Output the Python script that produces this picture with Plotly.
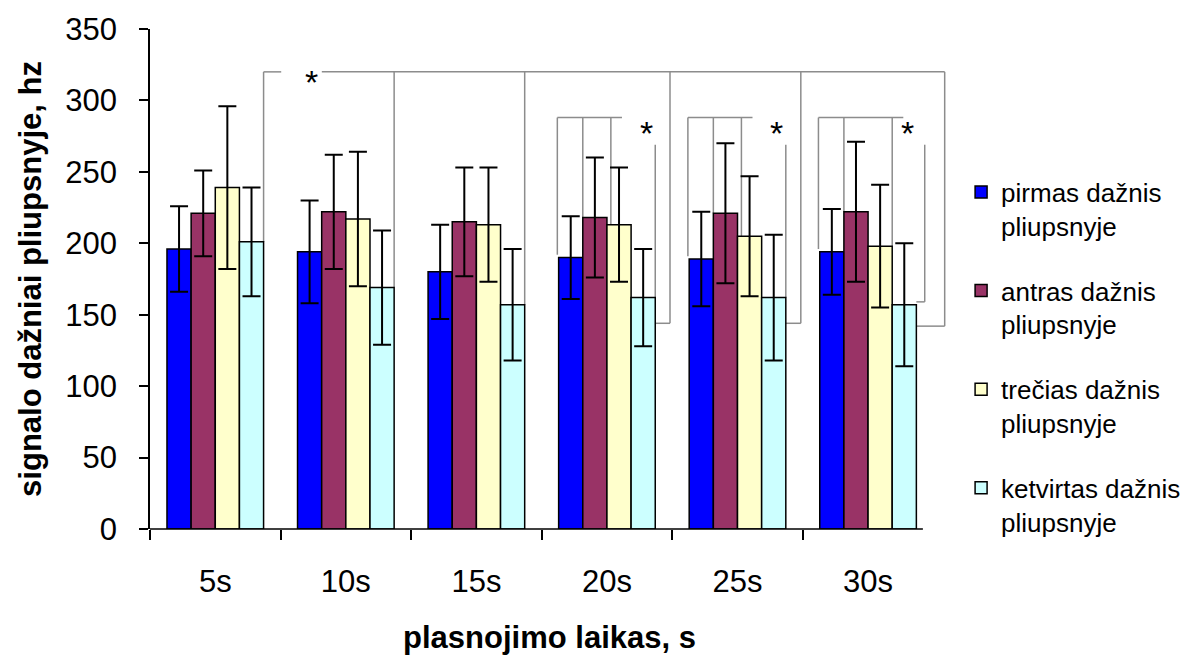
import plotly.graph_objects as go

# Plasnojimo laikas (grupės)
categories = ["5s", "10s", "15s", "20s", "25s", "30s"]

# Vidutiniai signalo dažniai (Hz) ir standartiniai nuokrypiai
pirmas = [196, 194, 180, 190, 189, 194]
pirmas_err = [30, 36, 33, 29, 33, 30]
antras = [221, 222, 215, 218, 221, 222]
antras_err = [30, 40, 38, 42, 49, 49]
trecias = [239, 217, 213, 213, 205, 198]
trecias_err = [57, 47, 40, 40, 42, 43]
ketvirtas = [201, 169, 157, 162, 162, 157]
ketvirtas_err = [38, 40, 39, 34, 44, 43]

series_names = [
    "pirmas dažnis<br>pliupsnyje",
    "antras dažnis<br>pliupsnyje",
    "trečias dažnis<br>pliupsnyje",
    "ketvirtas dažnis<br>pliupsnyje",
]
series_values = [pirmas, antras, trecias, ketvirtas]
series_errors = [pirmas_err, antras_err, trecias_err, ketvirtas_err]
series_colors = ["#0000FF", "#993366", "#FFFFCC", "#CCFFFF"]

FONT = "Arial, 'Liberation Sans', sans-serif"
BARGAP = 0.26
N_SERIES = 4
BAR_W = (1 - BARGAP) / N_SERIES
x_idx = list(range(len(categories)))


def edge(k, i, side="left"):
    """Left/right edge (in axis units) of bar i inside group k."""
    left = k - (1 - BARGAP) / 2 + BAR_W * i
    return left + BAR_W if side == "right" else left


fig = go.Figure()
for name, vals, errs, col in zip(series_names, series_values, series_errors, series_colors):
    fig.add_trace(go.Bar(
        x=x_idx, y=vals, name=name, legendgroup=name,
        marker=dict(color=col, line=dict(color="black", width=1.5)),
        error_y=dict(type="data", array=errs, visible=True,
                     color="black", thickness=2, width=9),
    ))

shapes = []
GREY = dict(color="#8c8c8c", width=1.5)


def seg(x0, y0, x1, y1):
    shapes.append(dict(type="line", xref="x", yref="y", x0=x0, y0=y0, x1=x1, y1=y1,
                       line=GREY, layer="below"))


STAR_FONT = dict(family=FONT, size=34, color="black")

# Long comparison bracket across all groups
TOP = 320
last_x = edge(5, 3, "right") + 0.217
seg(edge(0, 3, "right"), TOP, 0.505, TOP)
seg(0.816, TOP, last_x, TOP)
for k in range(3):
    seg(edge(k, 3, "right"), TOP, edge(k, 3, "right"), ketvirtas[k])
foot = {3: (0.113, 144), 4: (0.115, 144), 5: (0.217, 142)}
for k, (dx, yb) in foot.items():
    xr = edge(k, 3, "right")
    seg(xr + dx, TOP, xr + dx, yb)
    seg(xr, yb, xr + dx, yb)

# Within-group brackets for 20s, 25s, 30s
INNER = 288
RIGHT_TOP = 269
annotations = [dict(x=0.74, y=TOP, xref="x", yref="y", text="*", showarrow=False,
                    font=STAR_FONT, yshift=-10)]
for k in (3, 4, 5):
    x_blue = edge(k, 0) - 0.01
    x_mar = edge(k, 1)
    if k == 5:
        x_third = edge(k, 2, "right")
    else:
        x_third = edge(k, 2) + 0.03
    seg(x_blue, INNER, x_third + 0.085, INNER)
    seg(x_blue, INNER, x_blue, pirmas[k] + 2)
    seg(x_mar, INNER, x_mar, antras[k])
    seg(x_third, INNER, x_third, trecias[k])
    xr = edge(k, 3, "right")
    if k == 5:
        seg(xr + 0.064, RIGHT_TOP, xr + 0.064, ketvirtas[k] + 2)
        seg(xr, ketvirtas[k] + 2, xr + 0.064, ketvirtas[k] + 2)
    else:
        seg(xr, RIGHT_TOP, xr, ketvirtas[k])
    annotations.append(dict(x=xr - 0.07, y=284, xref="x", yref="y", text="*",
                            showarrow=False, yshift=-10, font=STAR_FONT))

# Horizontal axis line
shapes.append(dict(type="line", xref="x", yref="paper",
                   x0=-0.5, x1=edge(5, 3, "right") + 0.05, y0=0, y1=0,
                   line=dict(color="black", width=1.5)))

fig.update_layout(
    width=1188, height=661,
    margin=dict(l=150, r=239, t=28, b=129),
    paper_bgcolor="white", plot_bgcolor="white",
    barmode="group", bargap=BARGAP, bargroupgap=0,
    font=dict(family=FONT, color="black"),
    shapes=shapes, annotations=annotations,
    showlegend=True,
    legend=dict(xref="container", yref="container", x=0.809, y=0.745,
                xanchor="left", yanchor="top", maxheight=600,
                font=dict(family=FONT, size=26, color="black"),
                tracegroupgap=28, valign="top", bgcolor="rgba(0,0,0,0)"),
    xaxis=dict(
        range=[-0.5, 5.62], tickmode="array", tickvals=x_idx, ticktext=categories,
        ticks="", showline=False, showgrid=False, zeroline=False,
        tickfont=dict(family=FONT, size=31, color="black"),
        ticklabelstandoff=31,
        minor=dict(tickmode="array", tickvals=[k - 0.5 for k in x_idx],
                   ticks="outside", ticklen=10, tickwidth=1.5, tickcolor="black"),
        title=dict(text="<b>plasnojimo laikas, s</b>", standoff=28,
                   font=dict(family=FONT, size=31, color="black")),
    ),
    yaxis=dict(
        range=[0, 350], tickmode="linear", tick0=0, dtick=50,
        ticks="outside", ticklen=9, tickwidth=1.5, tickcolor="black",
        showline=True, linecolor="black", linewidth=1.5,
        showgrid=False, zeroline=False,
        tickfont=dict(family=FONT, size=31, color="black"),
        ticklabelstandoff=16,
        title=dict(text="<b>signalo dažniai pliupsnyje, hz</b>", standoff=14,
                   font=dict(family=FONT, size=31, color="black")),
    ),
)

fig.write_html("out.html")
